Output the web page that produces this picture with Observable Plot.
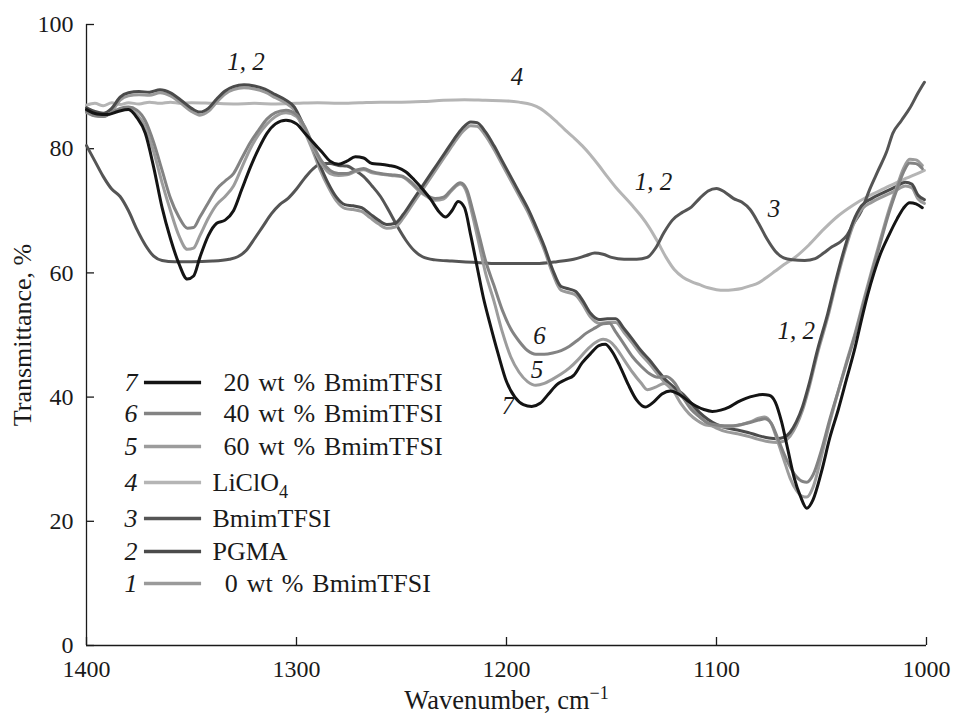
<!DOCTYPE html>
<html><head><meta charset="utf-8">
<script src="https://cdn.jsdelivr.net/npm/d3@7"></script>
<script src="https://cdn.jsdelivr.net/npm/@observablehq/plot@0.6"></script>
<style>html,body{margin:0;padding:0;background:#fff;}#chart{width:954px;height:717px;}</style>
</head><body><div id="chart"></div>
<script>
// ---------- DATA ----------
const xTicks = [1400, 1300, 1200, 1100, 1000];
const yTicks = [0, 20, 40, 60, 80, 100];
const xLabel = "Wavenumber, cm";
const xLabelSup = "\u22121";
const yLabel = "Transmittance, %";

// 1: 0 wt % BmimTFSI
const c1 = [[1400,86.0],[1396,85.4],[1392,85.2],[1388,86.0],[1384,87.8],[1380,88.5],[1375,88.7],[1370,88.6],[1365,89.0],[1360,88.5],[1355,87.3],[1350,86.0],[1346,85.4],[1342,86.0],[1338,87.5],[1334,88.8],[1330,89.5],[1325,89.8],[1320,89.6],[1315,89.1],[1310,88.2],[1305,87.3],[1301,86.2],[1297,83.4],[1293,80.3],[1289,76.8],[1285,73.9],[1281,71.6],[1277,70.4],[1273,70.2],[1269,69.9],[1265,68.9],[1261,67.9],[1257,67.2],[1253,67.4],[1249,68.9],[1245,70.9],[1241,72.9],[1237,74.9],[1233,76.9],[1229,78.9],[1225,80.9],[1221,82.7],[1217,83.7],[1214,83.6],[1210,82.1],[1206,79.9],[1202,77.4],[1198,74.9],[1194,72.4],[1190,69.9],[1186,66.9],[1182,63.7],[1178,59.9],[1174,57.2],[1170,56.8],[1167,56.4],[1164,55.1],[1160,52.9],[1156,51.9],[1152,52.0],[1148,52.0],[1144,50.4],[1140,48.7],[1136,46.9],[1132,45.4],[1128,43.7],[1124,42.1],[1120,40.9],[1116,39.9],[1112,38.4],[1108,36.9],[1104,35.8],[1100,35.0],[1095,34.4],[1090,34.1],[1085,33.7],[1080,33.2],[1075,32.8],[1071,32.7],[1068,32.9],[1065,33.7],[1062,35.4],[1059,37.9],[1056,41.4],[1052,46.9],[1047,52.9],[1043,58.4],[1039,63.4],[1035,67.6],[1031,70.2],[1026,71.4],[1020,72.4],[1015,73.2],[1010,74.0],[1007,73.7],[1004,71.9],[1001,71.2]];

// 2: PGMA
const c2 = [[1400,86.6],[1396,86.0],[1392,85.7],[1388,86.5],[1384,88.3],[1380,89.0],[1375,89.2],[1370,89.1],[1365,89.5],[1360,89.0],[1355,87.8],[1350,86.5],[1346,85.9],[1342,86.5],[1338,88.0],[1334,89.3],[1330,90.0],[1325,90.3],[1320,90.1],[1315,89.6],[1310,88.7],[1305,87.8],[1301,86.7],[1297,84.0],[1293,81.0],[1289,77.5],[1285,74.5],[1281,72.2],[1277,71.0],[1273,70.8],[1269,70.5],[1265,69.5],[1261,68.5],[1257,67.8],[1253,68.0],[1249,69.5],[1245,71.5],[1241,73.5],[1237,75.5],[1233,77.5],[1229,79.5],[1225,81.5],[1221,83.3],[1217,84.3],[1214,84.2],[1210,82.7],[1206,80.5],[1202,78.0],[1198,75.5],[1194,73.0],[1190,70.5],[1186,67.5],[1182,64.3],[1178,60.5],[1174,57.8],[1170,57.4],[1167,57.0],[1164,55.7],[1160,53.5],[1156,52.5],[1152,52.6],[1148,52.6],[1144,51.0],[1140,49.3],[1136,47.5],[1132,46.0],[1128,44.3],[1124,42.7],[1120,41.5],[1116,40.5],[1112,39.0],[1108,37.5],[1104,36.4],[1100,35.6],[1095,35.0],[1090,34.7],[1085,34.3],[1080,33.8],[1075,33.4],[1071,33.3],[1068,33.5],[1065,34.3],[1062,36.0],[1059,38.5],[1056,42.0],[1052,47.5],[1047,53.5],[1043,59.0],[1039,64.0],[1035,68.2],[1031,70.8],[1026,72.0],[1020,73.0],[1015,73.8],[1010,74.6],[1007,74.3],[1004,72.5],[1001,71.8]];

// 3: BmimTFSI
const c3 = [[1400,80.5],[1396,78.0],[1392,75.5],[1388,73.5],[1384,72.3],[1380,70.0],[1376,67.0],[1372,64.5],[1368,62.7],[1364,62.0],[1358,61.8],[1350,61.8],[1340,61.9],[1332,62.2],[1328,62.6],[1324,63.6],[1320,65.5],[1316,67.5],[1312,69.5],[1308,71.0],[1304,72.0],[1300,73.5],[1296,75.3],[1292,76.8],[1288,77.6],[1284,77.6],[1280,77.3],[1276,77.2],[1272,76.5],[1268,75.5],[1264,74.0],[1260,72.3],[1256,70.0],[1252,67.5],[1248,65.3],[1244,63.6],[1240,62.6],[1234,62.1],[1226,61.9],[1216,61.7],[1206,61.5],[1196,61.5],[1186,61.5],[1176,61.8],[1168,62.2],[1162,62.8],[1158,63.2],[1154,63.0],[1150,62.5],[1144,62.2],[1138,62.2],[1133,62.5],[1129,64.0],[1125,66.5],[1121,68.5],[1116,69.8],[1112,70.6],[1108,72.0],[1104,73.2],[1100,73.6],[1096,73.0],[1092,72.0],[1088,71.4],[1084,70.2],[1080,68.0],[1076,65.5],[1072,63.5],[1068,62.4],[1064,62.1],[1058,62.0],[1053,62.3],[1049,63.2],[1045,64.2],[1041,65.0],[1038,66.0],[1035,67.8],[1031,70.0],[1027,73.5],[1023,76.5],[1019,79.5],[1016,82.5],[1012,84.5],[1008,86.5],[1004,89.0],[1001,90.7]];

// 4: LiClO4
const c4 = [[1400,87.0],[1396,87.3],[1392,86.9],[1388,87.4],[1384,87.1],[1380,87.4],[1375,87.2],[1370,87.5],[1365,87.3],[1360,87.5],[1355,87.3],[1350,87.4],[1340,87.3],[1330,87.2],[1320,87.3],[1310,87.2],[1300,87.3],[1290,87.4],[1280,87.3],[1270,87.4],[1260,87.5],[1250,87.5],[1240,87.6],[1230,87.8],[1220,87.9],[1210,87.8],[1200,87.7],[1194,87.5],[1188,87.1],[1184,86.5],[1180,85.5],[1176,84.3],[1172,83.0],[1168,81.8],[1164,80.5],[1160,79.0],[1156,77.3],[1152,75.5],[1148,73.8],[1144,72.3],[1140,70.8],[1136,69.2],[1132,67.3],[1128,65.0],[1124,62.5],[1120,60.5],[1116,59.3],[1112,58.6],[1108,58.1],[1104,57.6],[1100,57.3],[1096,57.2],[1092,57.3],[1088,57.5],[1084,57.9],[1080,58.4],[1076,59.3],[1072,60.3],[1068,61.3],[1063,62.4],[1056,64.5],[1049,67.0],[1042,69.2],[1035,70.9],[1028,72.3],[1020,73.6],[1012,74.9],[1003,76.2],[1001,76.5]];

// 5: 60 wt % BmimTFSI
const c5 = [[1400,85.8],[1396,85.3],[1392,85.2],[1388,85.8],[1384,86.3],[1380,86.3],[1376,85.5],[1372,83.5],[1368,79.5],[1364,74.5],[1360,70.0],[1356,66.0],[1352,63.8],[1349,64.0],[1346,66.0],[1342,68.8],[1338,71.0],[1334,72.3],[1330,74.0],[1326,77.0],[1322,80.0],[1318,82.3],[1314,84.0],[1310,85.2],[1305,85.8],[1300,85.2],[1296,83.0],[1292,80.0],[1288,77.5],[1284,76.0],[1280,75.7],[1276,75.8],[1272,76.3],[1268,76.6],[1264,76.1],[1260,75.9],[1255,75.7],[1250,75.5],[1246,74.6],[1242,73.3],[1238,72.3],[1234,71.7],[1230,71.9],[1226,73.3],[1222,74.3],[1219,73.0],[1216,69.0],[1213,64.5],[1210,60.0],[1206,55.5],[1202,50.5],[1198,46.5],[1194,44.0],[1190,42.5],[1186,41.9],[1182,42.2],[1178,42.9],[1174,43.7],[1170,44.7],[1166,46.0],[1162,47.5],[1158,48.7],[1154,49.3],[1151,49.0],[1148,48.0],[1144,46.0],[1140,44.0],[1136,42.3],[1133,41.2],[1129,41.6],[1125,42.2],[1121,41.2],[1117,39.0],[1113,37.3],[1109,36.2],[1105,35.5],[1100,35.3],[1096,35.2],[1092,35.3],[1088,35.6],[1084,36.0],[1080,36.6],[1077,36.8],[1074,35.8],[1071,33.0],[1068,30.0],[1065,27.0],[1062,25.0],[1059,24.0],[1057,23.9],[1054,25.5],[1050,30.5],[1046,36.0],[1042,41.0],[1038,45.8],[1034,50.3],[1030,55.5],[1026,60.5],[1022,65.3],[1018,70.0],[1014,74.0],[1011,76.8],[1008,78.3],[1005,78.2],[1002,77.3]];

// 6: 40 wt % BmimTFSI
const c6 = [[1400,86.0],[1396,85.3],[1392,85.2],[1388,85.8],[1384,86.5],[1380,86.7],[1376,86.2],[1372,84.5],[1368,81.0],[1364,76.5],[1360,72.0],[1356,69.0],[1352,67.2],[1349,67.3],[1346,69.0],[1342,71.3],[1338,73.5],[1334,74.8],[1330,76.0],[1326,78.5],[1322,81.0],[1318,83.0],[1314,84.8],[1310,85.8],[1305,86.2],[1300,85.5],[1296,83.5],[1292,80.5],[1288,78.0],[1284,76.5],[1280,76.0],[1276,76.0],[1272,76.5],[1268,76.8],[1264,76.3],[1260,76.0],[1255,75.8],[1250,75.6],[1246,74.8],[1242,73.5],[1238,72.5],[1234,72.0],[1230,72.2],[1226,73.5],[1222,74.5],[1219,73.5],[1216,70.0],[1213,66.0],[1210,62.0],[1206,58.0],[1202,54.0],[1198,51.0],[1194,49.0],[1190,47.5],[1186,46.9],[1182,46.9],[1178,47.1],[1174,47.5],[1170,48.2],[1166,49.2],[1162,50.3],[1158,51.1],[1154,51.8],[1151,51.9],[1148,50.5],[1144,48.5],[1140,46.5],[1136,45.0],[1132,43.8],[1128,43.2],[1124,43.3],[1120,42.3],[1116,40.0],[1112,38.0],[1108,36.8],[1104,35.8],[1100,35.5],[1096,35.4],[1092,35.4],[1088,35.6],[1084,35.9],[1080,36.3],[1077,36.5],[1074,35.8],[1071,33.5],[1068,31.0],[1065,28.8],[1062,27.2],[1059,26.4],[1057,26.3],[1054,27.5],[1050,31.5],[1046,36.5],[1042,41.0],[1038,45.5],[1034,50.0],[1030,55.0],[1026,60.0],[1022,64.8],[1018,69.5],[1014,73.5],[1011,76.2],[1008,77.7],[1005,77.6],[1002,76.8]];

// 7: 20 wt % BmimTFSI
const c7 = [[1400,86.3],[1395,85.6],[1390,85.5],[1385,86.0],[1380,86.3],[1376,85.0],[1372,82.5],[1368,77.0],[1364,70.5],[1360,65.5],[1356,61.5],[1352,59.0],[1349,59.5],[1346,62.5],[1342,66.0],[1338,68.0],[1334,68.5],[1330,70.0],[1326,73.5],[1322,77.0],[1318,80.0],[1314,82.5],[1310,84.0],[1305,84.6],[1300,84.0],[1296,82.5],[1292,81.0],[1288,79.5],[1284,78.0],[1280,77.5],[1276,78.0],[1272,78.7],[1268,78.5],[1264,77.6],[1260,77.5],[1256,77.3],[1252,77.0],[1248,76.3],[1244,75.0],[1240,73.5],[1236,71.8],[1232,69.8],[1229,69.0],[1226,70.0],[1223,71.5],[1220,70.5],[1217,66.0],[1214,61.0],[1211,56.0],[1208,52.0],[1204,47.0],[1200,42.5],[1196,40.0],[1192,38.8],[1188,38.5],[1184,39.0],[1180,40.5],[1176,42.0],[1172,42.8],[1168,43.5],[1164,45.5],[1160,47.0],[1156,48.3],[1153,48.5],[1150,47.5],[1146,45.0],[1142,42.0],[1138,39.5],[1134,38.4],[1130,39.2],[1126,40.5],[1122,41.0],[1118,40.5],[1114,39.5],[1110,38.6],[1106,38.0],[1102,37.7],[1098,37.9],[1094,38.4],[1090,39.2],[1086,39.8],[1082,40.2],[1078,40.4],[1075,40.3],[1072,39.2],[1069,36.0],[1066,31.5],[1063,27.0],[1060,24.0],[1057,22.1],[1054,23.5],[1050,28.0],[1046,33.5],[1042,38.0],[1038,43.0],[1034,48.0],[1031,52.4],[1028,56.5],[1025,60.0],[1022,63.0],[1018,66.0],[1014,68.7],[1011,70.4],[1008,71.3],[1005,71.1],[1002,70.5]];

// legend (top to bottom)
const legendNums = ["7", "6", "5", "4", "3", "2", "1"];
const legendTexts = ["20 wt % BmimTFSI", "40 wt % BmimTFSI", "60 wt % BmimTFSI", "LiClO", "BmimTFSI", "PGMA", "0 wt % BmimTFSI"];
const legendSub = "4";

// curve annotations: text, wavenumber, transmittance
const annText = ["1, 2", "4", "1, 2", "3", "1, 2", "6", "5", "7"];
const annW = [1324, 1195, 1130, 1072.6, 1062, 1184.3, 1185.5, 1199.3];
const annT = [93.9, 91.5, 74.6, 70.3, 50.6, 49.8, 44.3, 38.6];

// ---------- STYLE / LAYOUT ----------
const serif = "'Liberation Serif','Times New Roman',serif";
const ink = "#1a1a1a";
const colors = {1: "#9a9a9a", 2: "#4b4b4b", 3: "#555555", 4: "#b5b5b5", 5: "#9c9c9c", 6: "#838383", 7: "#141414"};
const curves = {1: c1, 2: c2, 3: c3, 4: c4, 5: c5, 6: c6, 7: c7};
const drawOrder = [4, 3, 1, 2, 5, 6, 7];
const legendRowT = [42.35, 37.36, 32.05, 26.25, 20.45, 15.14, 9.98];
const legendNumW = 1375.7, legendLineW = [1372.4, 1345.2];
const legendTextW = [1334.8, 1334.8, 1334.8, 1340, 1340, 1340, 1334.2];

const toRows = arr => arr.map(([w, t]) => ({w, t}));
const lineMarks = drawOrder.map(k => Plot.line(toRows(curves[k]), {
  x: "w", y: "t", stroke: colors[k], strokeWidth: 3, curve: "monotone-x"
}));

const legendRows = legendNums.map((n, i) => ({n, label: legendTexts[i], t: legendRowT[i], tw: legendTextW[i], color: colors[+n]}));
const legendLineMarks = legendRows.map(r => Plot.ruleY([r], {y: "t", x1: legendLineW[0], x2: legendLineW[1], stroke: r.color, strokeWidth: 3.6}));

const annRows = annText.map((s, i) => ({s, w: annW[i], t: annT[i]}));

const chart = Plot.plot({
  width: 954, height: 717,
  marginLeft: 86, marginRight: 28, marginTop: 24, marginBottom: 72,
  x: {domain: [1400, 1000]},
  y: {domain: [0, 100]},
  style: {fontFamily: serif, fontSize: "24px", color: ink, background: "#fff"},
  marks: [
    Plot.ruleX([1400], {stroke: ink, strokeWidth: 1.3}),
    Plot.ruleY([0], {stroke: ink, strokeWidth: 1.3}),
    Plot.axisY({ticks: yTicks, tickSize: 8, dx: 8, tickFormat: () => "", label: null, strokeWidth: 1.3}),
    Plot.axisY({ticks: yTicks, tickSize: 0, tickPadding: 13, tickFormat: d => `${d}`, label: null, fontSize: 24}),
    Plot.axisX({ticks: xTicks, tickSize: 8, dy: -8, tickFormat: () => "", label: null, strokeWidth: 1.3}),
    Plot.axisX({ticks: xTicks, tickSize: 0, tickPadding: 14, tickFormat: d => `${d}`, label: null, fontSize: 24}),
    ...lineMarks,
    ...legendLineMarks,
    Plot.text(legendRows, {x: legendNumW, y: "t", text: "n", textAnchor: "end", fontStyle: "italic", fontSize: 26, fill: ink}),
    Plot.text(legendRows, {x: "tw", y: "t", text: "label", textAnchor: "start", fontSize: 26, fill: ink}),
    Plot.text(annRows, {x: "w", y: "t", text: "s", fontStyle: "italic", fontSize: 25, fill: ink}),
    Plot.text([yLabel], {frameAnchor: "left", textAnchor: "middle", lineAnchor: "middle", dx: -64, rotate: -90, fontSize: 26, fill: ink}),
    Plot.text([xLabel], {frameAnchor: "bottom", textAnchor: "middle", lineAnchor: "middle", dy: 55, fontSize: 26.5, fill: ink})
  ]
});
document.getElementById("chart").append(chart);

// superscript / subscript, legend word spacing
d3.select(chart).selectAll("text").each(function () {
  const t = this.textContent;
  if (t === xLabel) {
    d3.select(this).append("tspan").attr("dy", "-0.55em").attr("font-size", "0.68em").text(xLabelSup);
  } else if (t === "LiClO") {
    d3.select(this).append("tspan").attr("dy", "0.38em").attr("font-size", "0.7em").text(legendSub);
  } else if (legendTexts.includes(t)) {
    d3.select(this).attr("word-spacing", "2.5px");
  }
});
</script>
</body></html>
